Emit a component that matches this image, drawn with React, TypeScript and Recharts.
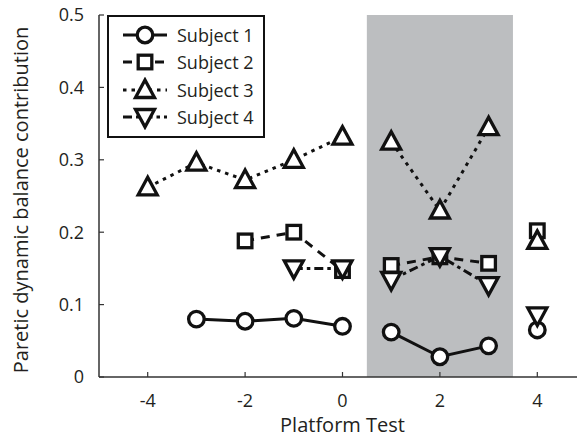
import React from "react";
import { ComposedChart, Line, XAxis, YAxis, ReferenceArea } from "recharts";

// Platform test index, one entry per session
const platformTests = [-4, -3, -2, -1, 0, 1, 2, 3, 4];

// Paretic dynamic balance contribution per subject (null = not tested)
const subject1 = [null, 0.08, 0.077, 0.081, 0.07, 0.062, 0.028, 0.043, 0.065];
const subject2 = [null, null, 0.188, 0.2, 0.147, 0.154, 0.166, 0.157, 0.202];
const subject3 = [0.262, 0.296, 0.272, 0.3, 0.332, 0.325, 0.23, 0.345, 0.188];
const subject4 = [null, null, null, 0.15, 0.15, 0.134, 0.167, 0.127, 0.085];

// Platform training block (shaded); lines are broken at its edges
const trainingBlock = [0.5, 3.5];

const xTicks = [-4, -2, 0, 2, 4];
const yTicks = [0, 0.1, 0.2, 0.3, 0.4, 0.5];

const FONT = "'Open Sans', sans-serif";
const INK = "#231f20";
const LINE = "#111";

type Shape = "circle" | "square" | "up" | "down";

const series: { key: string; name: string; values: (number | null)[]; shape: Shape; dash?: string }[] = [
  { key: "s1", name: "Subject 1", values: subject1, shape: "circle" },
  { key: "s2", name: "Subject 2", values: subject2, shape: "square", dash: "9 7" },
  { key: "s3", name: "Subject 3", values: subject3, shape: "up", dash: "3.5 5" },
  { key: "s4", name: "Subject 4", values: subject4, shape: "down", dash: "9 4 3.5 4" },
];

// build rows; blank rows at the block edges split each line into segments
const rows: Record<string, number | null>[] = [];
platformTests.forEach((x, i) => {
  trainingBlock.forEach((edge) => {
    const prev = platformTests[i - 1];
    if (prev !== undefined && prev < edge && x > edge) {
      const gap: Record<string, number | null> = { x: edge };
      series.forEach((s) => (gap[s.key] = null));
      rows.push(gap);
    }
  });
  const row: Record<string, number | null> = { x };
  series.forEach((s) => (row[s.key] = s.values[i]));
  rows.push(row);
});

function Marker({ shape, cx, cy }: { shape: Shape; cx: number; cy: number }) {
  const common = { fill: "#fff", stroke: LINE, strokeWidth: 3.3, strokeLinejoin: "miter" as const };
  if (shape === "circle") return <circle cx={cx} cy={cy} r={7.8} {...common} />;
  if (shape === "square") return <rect x={cx - 6.8} y={cy - 6.8} width={13.6} height={13.6} {...common} />;
  if (shape === "up")
    return <polygon points={`${cx},${cy - 10} ${cx - 9.5},${cy + 7.5} ${cx + 9.5},${cy + 7.5}`} {...common} />;
  return <polygon points={`${cx},${cy + 10} ${cx - 9.5},${cy - 7.5} ${cx + 9.5},${cy - 7.5}`} {...common} />;
}

const renderDot = (shape: Shape) => (props: any) => {
  const { cx, cy, value, index } = props;
  if (value == null || cx == null || cy == null) return <g key={`d-${index}`} />;
  return (
    <g key={`d-${index}`}>
      <Marker shape={shape} cx={cx} cy={cy} />
    </g>
  );
};

function LegendBox() {
  return (
    <div
      style={{
        position: "absolute",
        left: 107,
        top: 15,
        width: 158,
        height: 123,
        border: "2px solid #111",
        background: "#fff",
        boxSizing: "border-box",
        paddingTop: 4,
      }}
    >
      {series.map((s) => (
        <div key={s.key} style={{ display: "flex", alignItems: "center", height: 27.5 }}>
          <svg width={66} height={26} style={{ flex: "none" }}>
            <line x1={14} x2={58} y1={13} y2={13} stroke={LINE} strokeWidth={3} strokeDasharray={s.dash} />
            <Marker shape={s.shape} cx={36} cy={13} />
          </svg>
          <span style={{ fontFamily: FONT, fontSize: 18, color: INK, marginLeft: 2, lineHeight: 1 }}>{s.name}</span>
        </div>
      ))}
    </div>
  );
}

export default function App() {
  return (
    <div
      style={{
        position: "fixed",
        left: 0,
        top: 0,
        width: 577,
        height: 437,
        overflow: "hidden",
        background: "#fff",
      }}
    >
      <ComposedChart width={600} height={437} data={rows} margin={{ top: 15, right: 14, bottom: 0, left: 0 }}>
        <ReferenceArea
          x1={trainingBlock[0]}
          x2={trainingBlock[1]}
          y1={0}
          y2={0.5}
          fill="#bcbec0"
          fillOpacity={1}
          stroke="none"
        />
        <XAxis
          type="number"
          dataKey="x"
          domain={[-5, 5]}
          ticks={xTicks}
          height={60}
          axisLine={{ stroke: "#333", strokeWidth: 1.5 }}
          tickLine={{ stroke: "#333", strokeWidth: 1.2 }}
          tickSize={-5}
          tickMargin={22}
          tick={{ fill: INK, fontSize: 18, fontFamily: FONT }}
          label={{
            content: (p: any) => (
              <text
                x={p.viewBox.x + p.viewBox.width / 2}
                y={p.viewBox.y + 55}
                textAnchor="middle"
                fill={INK}
                fontSize={20}
                fontFamily={FONT}
              >
                Platform Test
              </text>
            ),
          }}
        />
        <YAxis
          type="number"
          domain={[0, 0.5]}
          ticks={yTicks}
          width={99}
          axisLine={{ stroke: "#333", strokeWidth: 1.5 }}
          tickLine={{ stroke: "#333", strokeWidth: 1.2 }}
          tickSize={-5}
          tickMargin={20}
          tickFormatter={(v: number) => String(Math.round(v * 10) / 10)}
          tick={{ fill: INK, fontSize: 18, fontFamily: FONT }}
          label={{
            content: (p: any) => {
              const cx = 20;
              const cy = p.viewBox.y + p.viewBox.height / 2 + 4;
              return (
                <text
                  transform={`translate(${cx},${cy}) rotate(-90)`}
                  textAnchor="middle"
                  dominantBaseline="central"
                  fill={INK}
                  fontSize={20}
                  fontFamily={FONT}
                >
                  Paretic dynamic balance contribution
                </text>
              );
            },
          }}
        />
        {series.map((s) => (
          <Line
            key={s.key}
            dataKey={s.key}
            name={s.name}
            type="linear"
            stroke={LINE}
            strokeWidth={3}
            strokeDasharray={s.dash}
            connectNulls={false}
            dot={renderDot(s.shape)}
            activeDot={false}
            isAnimationActive={false}
          />
        ))}
      </ComposedChart>
      <LegendBox />
    </div>
  );
}
